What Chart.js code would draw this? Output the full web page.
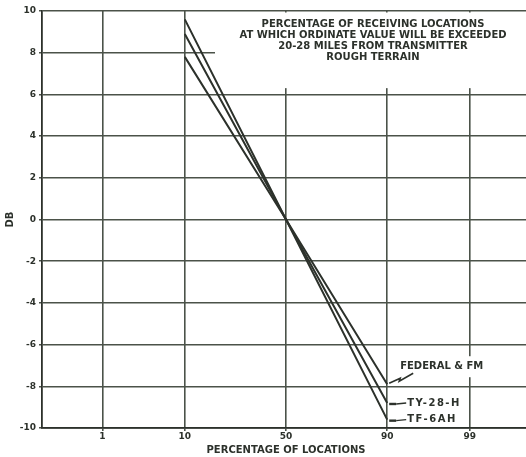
<!DOCTYPE html>
<html>
<head>
<meta charset="utf-8">
<script src="https://cdn.jsdelivr.net/npm/chart.js@4/dist/chart.umd.min.js"></script>
<style>
  html, body { margin: 0; padding: 0; background: #ffffff; overflow: hidden; }
  #wrap { width: 526px; height: 457px; overflow: hidden; }
  canvas { display: block; }
</style>
</head>
<body>
<div id="wrap"><canvas id="c" width="540" height="457"></canvas></div>
<script>
// Percentage of locations at which each curve is read
const percentLocations = [10, 50, 90];
// Probability-axis tick labels (percent)
const tickPercents = [1, 10, 50, 90, 99];
// DB axis ticks
const dbMin = -10;
const dbMax = 10;
const dbStep = 2;
// Series values (DB)
const federalFm = [7.8, 0, -7.9];
const ty28h = [8.9, 0, -8.8];
const tf6ah = [9.6, 0, -9.6];
const seriesNames = ['FEDERAL & FM', 'TY-28-H', 'TF-6AH'];
const titleLines = [
  'PERCENTAGE OF RECEIVING LOCATIONS',
  'AT WHICH ORDINATE VALUE WILL BE EXCEEDED',
  '20-28 MILES FROM TRANSMITTER',
  'ROUGH TERRAIN'
];
const xTitle = 'PERCENTAGE OF LOCATIONS';
const yTitle = 'DB';

const INK = '#2c312b';
const GRID = '#4b5249';
const FONT = '"DejaVu Sans", sans-serif';

// Inverse normal CDF (percent -> standard normal deviate) for the probability axis
function probit(pct) {
  const p = pct / 100;
  const a = [-3.969683028665376e+01, 2.209460984245205e+02, -2.759285104469687e+02, 1.383577518672690e+02, -3.066479806614716e+01, 2.506628277459239e+00];
  const b = [-5.447609879822406e+01, 1.615858368580409e+02, -1.556989798598866e+02, 6.680131188771972e+01, -1.328068155288572e+01];
  const c = [-7.784894002430293e-03, -3.223964580411365e-01, -2.400758277161838e+00, -2.549732539343734e+00, 4.374664141464968e+00, 2.938163982698783e+00];
  const d = [7.784695709041462e-03, 3.224671290700398e-01, 2.445134137142996e+00, 3.754408661907416e+00];
  const pl = 0.02425, ph = 1 - pl;
  let q, r;
  if (p < pl) {
    q = Math.sqrt(-2 * Math.log(p));
    return (((((c[0]*q+c[1])*q+c[2])*q+c[3])*q+c[4])*q+c[5]) / ((((d[0]*q+d[1])*q+d[2])*q+d[3])*q+1);
  }
  if (p <= ph) {
    q = p - 0.5; r = q * q;
    return (((((a[0]*r+a[1])*r+a[2])*r+a[3])*r+a[4])*r+a[5])*q / (((((b[0]*r+b[1])*r+b[2])*r+b[3])*r+b[4])*r+1);
  }
  q = Math.sqrt(-2 * Math.log(1 - p));
  return -(((((c[0]*q+c[1])*q+c[2])*q+c[3])*q+c[4])*q+c[5]) / ((((d[0]*q+d[1])*q+d[2])*q+d[3])*q+1);
}

function toPoints(values) {
  return percentLocations.map((p, i) => ({ x: probit(p), y: values[i] }));
}

const lineStyle = {
  showLine: true,
  borderColor: INK,
  borderWidth: 2,
  pointRadius: 0,
  fill: false,
  tension: 0
};

// Title block, curve labels and leaders
const notesPlugin = {
  id: 'notes',
  beforeDatasetsDraw(chart) {
    const { ctx, chartArea, scales } = chart;
    const ys = scales.y;
    // blank panel behind the title block
    ctx.save();
    ctx.fillStyle = '#ffffff';
    const left = chartArea.left + 173;
    const top = chartArea.top + 1.5;
    const bottom = ys.getPixelForValue(6.3);
    ctx.fillRect(left, top, chartArea.right - left, bottom - top);
    ctx.fillStyle = INK;
    ctx.font = 'bold 10px ' + FONT;
    ctx.textAlign = 'center';
    ctx.textBaseline = 'middle';
    const cx = chartArea.left + 331;
    titleLines.forEach((t, i) => {
      ctx.fillText(t, cx, chartArea.top + 13 + i * 11);
    });
    ctx.restore();
  },
  afterDatasetsDraw(chart) {
    const { ctx, scales } = chart;
    const xs = scales.x, ys = scales.y;
    const x90 = xs.getPixelForValue(probit(90));
    const yF = ys.getPixelForValue(federalFm[2]);
    const yT = ys.getPixelForValue(ty28h[2]);
    const yS = ys.getPixelForValue(tf6ah[2]);
    ctx.save();
    ctx.font = 'bold 10px ' + FONT;
    ctx.textBaseline = 'middle';
    ctx.textAlign = 'left';

    // FEDERAL & FM label on a white patch
    const fText = seriesNames[0];
    const fx = x90 + 13, fy = yF - 18;
    const fw = ctx.measureText(fText).width;
    ctx.fillStyle = '#ffffff';
    ctx.fillRect(fx - 2, fy - 10, fw + 6, 21);
    ctx.fillStyle = INK;
    ctx.fillText(fText, fx, fy);

    ctx.strokeStyle = INK;
    ctx.lineWidth = 1.6;
    ctx.beginPath();
    ctx.moveTo(x90 + 2, yF - 1);
    ctx.lineTo(x90 + 13, yF - 6);
    ctx.lineTo(x90 + 12, yF - 3);
    ctx.lineTo(x90 + 26, yF - 11);
    ctx.stroke();

    // TY-28-H and TF-6AH labels with short leaders
    [[seriesNames[1], yT], [seriesNames[2], yS]].forEach(([t, y]) => {
      ctx.strokeStyle = INK;
      ctx.lineWidth = 2.4;
      ctx.beginPath();
      ctx.moveTo(x90 + 2, y + 1);
      ctx.lineTo(x90 + 9, y + 1);
      ctx.stroke();
      ctx.lineWidth = 1.4;
      ctx.beginPath();
      ctx.moveTo(x90 + 9, y + 1);
      ctx.lineTo(x90 + 19, y);
      ctx.stroke();
      ctx.fillStyle = INK;
      ctx.letterSpacing = '1.5px';
      ctx.fillText(t, x90 + 20, y);
      ctx.letterSpacing = '0px';
    });
    ctx.restore();
  }
};

new Chart(document.getElementById('c'), {
  type: 'scatter',
  data: {
    datasets: [
      Object.assign({ label: seriesNames[0], data: toPoints(federalFm) }, lineStyle),
      Object.assign({ label: seriesNames[1], data: toPoints(ty28h) }, lineStyle),
      Object.assign({ label: seriesNames[2], data: toPoints(tf6ah) }, lineStyle)
    ]
  },
  options: {
    responsive: false,
    animation: false,
    events: [],
    layout: { padding: { top: 11, right: 10, left: 0, bottom: 0 } },
    plugins: {
      legend: { display: false },
      tooltip: { enabled: false },
      title: { display: false }
    },
    scales: {
      x: {
        type: 'linear',
        min: probit(0.1),
        max: probit(99.9),
        afterBuildTicks(scale) {
          scale.ticks = tickPercents.map(p => ({ value: probit(p) }));
        },
        afterFit(scale) { scale.height = 29; },
        ticks: {
          callback: (v, i) => String(tickPercents[i]),
          color: INK,
          font: { family: FONT, size: 9, weight: 'bold' },
          padding: 0,
          maxRotation: 0,
          autoSkip: false
        },
        grid: { color: GRID, lineWidth: 1.6, tickLength: 3 },
        border: { color: INK, width: 1.8 },
        title: {
          display: true,
          text: xTitle,
          color: INK,
          font: { family: FONT, size: 10, weight: 'bold' },
          padding: { top: 0, bottom: 1 }
        }
      },
      y: {
        type: 'linear',
        min: dbMin,
        max: dbMax,
        afterFit(scale) { scale.width = 42; },
        ticks: {
          stepSize: dbStep,
          color: INK,
          font: { family: FONT, size: 9, weight: 'bold' },
          padding: 3
        },
        grid: { color: GRID, lineWidth: 1.6, tickLength: 3 },
        border: { color: INK, width: 1.8 },
        title: {
          display: true,
          text: yTitle,
          color: INK,
          font: { family: FONT, size: 10, weight: 'bold' },
          padding: { top: 4, bottom: 0 }
        }
      }
    }
  },
  plugins: [notesPlugin]
});
</script>
</body>
</html>
